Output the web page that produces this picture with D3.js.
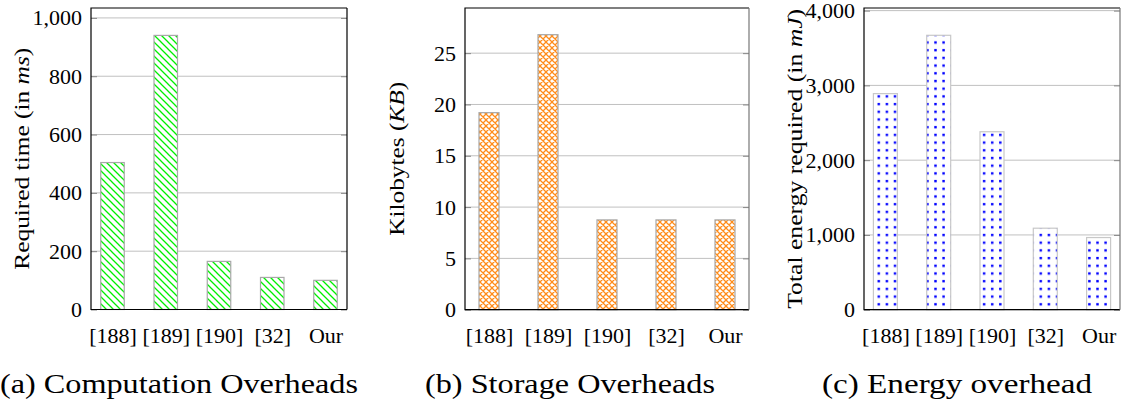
<!DOCTYPE html>
<html>
<head>
<meta charset="utf-8">
<script src="https://cdn.jsdelivr.net/npm/d3@7"></script>
<style>
  html, body { margin: 0; padding: 0; background: #fff; }
  svg { display: block; }
  svg text { font-family: "Liberation Serif", "Times New Roman", Times, "DejaVu Serif", serif; fill: #000; }
</style>
</head>
<body>
<svg id="chart" width="1125" height="412"></svg>
<script>
// Schemes compared in each panel
const categories = ["[188]", "[189]", "[190]", "[32]", "Our"];

// (a) computation time in ms
const timeMs = [504, 940, 165, 110, 100];
const timeTicks = [0, 200, 400, 600, 800, 1000];

// (b) storage in KB
const storageKB = [19.2, 26.8, 8.75, 8.75, 8.75];
const storageTicks = [0, 5, 10, 15, 20, 25];

// (c) energy in mJ
const energyMJ = [2890, 3670, 2380, 1090, 965];
const energyTicks = [0, 1000, 2000, 3000, 4000];

const captions = ["(a) Computation Overheads", "(b) Storage Overheads", "(c) Energy overhead"];

const FONT = "'Liberation Serif', 'Times New Roman', Times, 'DejaVu Serif', serif";

const svg = d3.select("#chart");
const defs = svg.append("defs");

// Hatch patterns for the bar fills
const diag = defs.append("pattern").attr("id", "hatch-green")
  .attr("patternUnits", "userSpaceOnUse").attr("width", 7).attr("height", 7);
diag.append("path").attr("d", "M-1,-1 L8,8 M-1,6 L1,8 M6,-1 L8,1")
  .attr("stroke", "#00f000").attr("stroke-width", 1.3).attr("fill", "none");

const cross = defs.append("pattern").attr("id", "hatch-orange")
  .attr("patternUnits", "userSpaceOnUse").attr("width", 6).attr("height", 6);
cross.append("path").attr("d", "M-1,-1 L7,7 M7,-1 L-1,7 M-1,5 L1,7 M5,-1 L7,1 M5,7 L7,5 M-1,1 L1,-1")
  .attr("stroke", "#ff8c1a").attr("stroke-width", 1.3).attr("fill", "none");

const dots = defs.append("pattern").attr("id", "dots-blue")
  .attr("patternUnits", "userSpaceOnUse").attr("width", 8.1).attr("height", 7.7);
dots.append("rect").attr("x", 2.8).attr("y", 2.8).attr("width", 2.4).attr("height", 2.4).attr("fill", "#0000ff");

const panels = [
  { values: timeMs, ticks: timeTicks, fmt: d3.format(","), left: 91, right: 347, top: 8, bottom: 309.5,
    yMax: 1034, inset: 21.5, barW: 23.5, fill: "url(#hatch-green)", edge: "#a8a8a8", rightEdge: "#000",
    labelX: 21, labelLen: 222, label: ["Required time (in ", "ms", ")"],
    caption: captions[0], capX: 0, capW: 358 },
  { values: storageKB, ticks: storageTicks, fmt: d3.format("d"), left: 465, right: 749, top: 8, bottom: 309.7,
    yMax: 29.4, inset: 24, barW: 20, fill: "url(#hatch-orange)", edge: "#a8a8a8", rightEdge: "#777",
    labelX: 396, labelLen: 154, label: ["Kilobytes (", "KB", ")"],
    caption: captions[1], capX: 425, capW: 290 },
  { values: energyMJ, ticks: energyTicks, fmt: d3.format(","), left: 864, right: 1120, top: 8, bottom: 309.7,
    yMax: 4035, inset: 21.4, barW: 24, fill: "url(#dots-blue)", edge: "#c8c8c8", rightEdge: "#777",
    labelX: 794, labelLen: 300, label: ["Total energy required (in ", "mJ", ")"],
    caption: captions[2], capX: 822, capW: 270 }
];

panels.forEach(p => {
  const g = svg.append("g");
  const x = d3.scalePoint().domain(categories).range([p.left + p.inset, p.right - p.inset]);
  const y = d3.scaleLinear().domain([0, p.yMax]).range([p.bottom, p.top]);

  // horizontal grid
  g.append("g").selectAll("line").data(p.ticks).join("line")
    .attr("x1", p.left).attr("x2", p.right)
    .attr("y1", d => y(d)).attr("y2", d => y(d))
    .attr("stroke", "#c0c0c0").attr("stroke-width", 1);

  // bars: white base then pattern on top
  const bars = g.append("g").selectAll("g").data(p.values).join("g");
  bars.append("rect")
    .attr("x", (d, i) => x(categories[i]) - p.barW / 2)
    .attr("y", d => y(d)).attr("width", p.barW)
    .attr("height", d => y(0) - y(d)).attr("fill", "#fff");
  bars.append("rect")
    .attr("x", (d, i) => x(categories[i]) - p.barW / 2)
    .attr("y", d => y(d)).attr("width", p.barW)
    .attr("height", d => y(0) - y(d))
    .attr("fill", p.fill).attr("stroke", p.edge).attr("stroke-width", 1.2);

  // left axis with inward ticks
  const yAxis = g.append("g").attr("transform", `translate(${p.left},0)`)
    .call(d3.axisLeft(y).tickValues(p.ticks).tickFormat(p.fmt).tickSize(-6).tickPadding(9));
  yAxis.attr("font-family", FONT);
  yAxis.select(".domain").remove();
  yAxis.selectAll(".tick line").attr("stroke", "#888");
  yAxis.selectAll(".tick text").attr("font-size", 22).attr("fill", "#000");

  // right-side inward ticks
  const yAxisR = g.append("g").attr("transform", `translate(${p.right},0)`)
    .call(d3.axisRight(y).tickValues(p.ticks).tickFormat("").tickSize(-6));
  yAxisR.select(".domain").remove();
  yAxisR.selectAll(".tick line").attr("stroke", "#888");

  // frame
  g.append("path")
    .attr("d", `M${p.right},${p.top} L${p.left},${p.top} L${p.left},${p.bottom} L${p.right},${p.bottom}`)
    .attr("fill", "none").attr("stroke", "#000").attr("stroke-width", 1.2);
  g.append("line").attr("x1", p.right).attr("x2", p.right).attr("y1", p.top).attr("y2", p.bottom)
    .attr("stroke", p.rightEdge).attr("stroke-width", 1.2);

  // category labels
  const xAxis = g.append("g").attr("transform", `translate(0,${p.bottom})`)
    .call(d3.axisBottom(x).tickSize(0).tickPadding(18));
  xAxis.attr("font-family", FONT);
  xAxis.select(".domain").remove();
  xAxis.selectAll(".tick text").attr("font-size", 22).attr("fill", "#000");

  // vertical axis title
  const cy = (p.top + p.bottom) / 2;
  const t = g.append("text").attr("transform", `translate(${p.labelX},${cy}) rotate(-90)`)
    .attr("text-anchor", "middle").attr("dominant-baseline", "central").attr("font-size", 22)
    .attr("textLength", p.labelLen).attr("lengthAdjust", "spacingAndGlyphs");
  t.append("tspan").text(p.label[0]);
  t.append("tspan").attr("font-style", "italic").text(p.label[1]);
  t.append("tspan").text(p.label[2]);

  // caption under the panel
  svg.append("text").attr("x", p.capX).attr("y", 393)
    .attr("font-size", 27).attr("textLength", p.capW).attr("lengthAdjust", "spacingAndGlyphs")
    .text(p.caption);
});
</script>
</body>
</html>
